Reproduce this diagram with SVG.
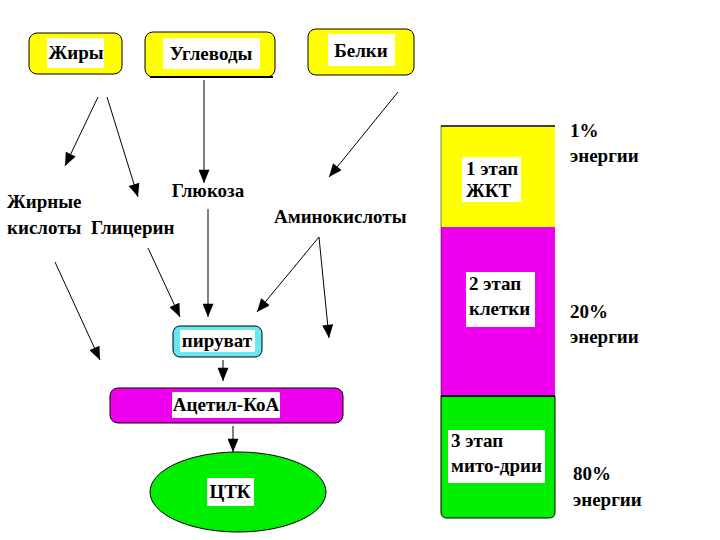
<svg xmlns="http://www.w3.org/2000/svg" width="720" height="540" viewBox="0 0 720 540">
<style>
text{font-family:'Liberation Serif','Times New Roman',serif;font-weight:700;font-size:19px;fill:#000}
.c{text-anchor:middle}
.ln{stroke:#000;stroke-width:1;fill:none}
.bg{fill:#fff}
.ybox{fill:#ffff00;stroke:#000;stroke-width:1}
</style>
<defs>
<marker id="ahb" viewBox="0 0 12 10" refX="12" refY="5" markerWidth="14" markerHeight="11" markerUnits="userSpaceOnUse" orient="auto">
<path d="M0,0 L12,5 L0,10 Z" fill="#000"/>
</marker>
</defs>
<rect width="720" height="540" fill="#fff"/>

<g id="connectors">
<line class="ln" x1="98" y1="97" x2="65" y2="166" marker-end="url(#ahb)"/>
<line class="ln" x1="107" y1="97" x2="138" y2="197" marker-end="url(#ahb)"/>
<line class="ln" x1="204" y1="80" x2="204" y2="183" marker-end="url(#ahb)"/>
<line class="ln" x1="398" y1="92" x2="329" y2="177" marker-end="url(#ahb)"/>
<line class="ln" x1="55" y1="262" x2="100" y2="360" marker-end="url(#ahb)"/>
<line class="ln" x1="148" y1="248" x2="180" y2="317" marker-end="url(#ahb)"/>
<line class="ln" x1="208" y1="209" x2="208" y2="317" marker-end="url(#ahb)"/>
<line class="ln" x1="319" y1="237" x2="257" y2="312" marker-end="url(#ahb)"/>
<line class="ln" x1="319" y1="237" x2="329" y2="338" marker-end="url(#ahb)"/>
<line class="ln" x1="223" y1="360" x2="223" y2="381" marker-end="url(#ahb)"/>
<line class="ln" x1="233" y1="426" x2="233" y2="452" marker-end="url(#ahb)"/>
</g>

<g id="zhiry">
<rect class="ybox" x="29" y="33" width="93" height="41" rx="8"/>
<rect class="bg" x="47" y="38" width="57" height="30"/>
<text class="c" x="76" y="59">Жиры</text>
</g>
<g id="uglevody">
<rect class="ybox" x="145" y="32" width="130" height="45" rx="8" stroke-width="1.5"/>
<line x1="150" y1="77" x2="273" y2="77" stroke="#000" stroke-width="2"/>
<rect class="bg" x="163" y="38" width="97" height="31"/>
<text class="c" x="211" y="60">Углеводы</text>
</g>
<g id="belki">
<rect class="ybox" x="308" y="29" width="106" height="46" rx="8"/>
<rect class="bg" x="328" y="34" width="67" height="32"/>
<text class="c" x="361" y="57">Белки</text>
</g>

<g id="glukoza"><text class="c" x="208" y="197">Глюкоза</text></g>
<g id="zhirnye"><text x="7" y="208">Жирные</text><text x="7" y="234">кислоты</text></g>
<g id="glicerin"><text x="91" y="234">Глицерин</text></g>
<g id="amino"><text x="274" y="223">Аминокислоты</text></g>

<g id="piruvat">
<rect x="173" y="326" width="89" height="31" rx="7" fill="#66e8f0" stroke="#000" stroke-width="1"/>
<rect class="bg" x="180" y="330" width="75" height="22"/>
<text class="c" x="217" y="347">пируват</text>
</g>
<g id="acetil">
<rect x="110" y="388" width="233" height="35" rx="8" fill="#ee00ee" stroke="#000" stroke-width="1"/>
<rect class="bg" x="172" y="392" width="108" height="26"/>
<text class="c" x="226" y="411">Ацетил-КоА</text>
</g>
<g id="ctk">
<ellipse cx="238" cy="492" rx="88" ry="40" fill="#00ee00" stroke="#000" stroke-width="1"/>
<rect class="bg" x="207" y="478" width="47" height="28"/>
<text class="c" x="230" y="498">ЦТК</text>
</g>

<g id="stages">
<rect x="441" y="126" width="114" height="101" fill="#ffff00"/>
<rect x="441" y="227" width="114" height="169" fill="#ee00ee"/>
<path d="M441,396 H555 V512 Q555,518 549,518 H447 Q441,518 441,512 Z" fill="#00ee00" stroke="#000" stroke-width="1"/>
<line x1="441" y1="126" x2="555" y2="126" stroke="#000" stroke-width="1.5"/>
<line x1="441" y1="396" x2="555" y2="396" stroke="#000" stroke-width="1.5"/>
<line x1="441" y1="126" x2="441" y2="396" stroke="#000" stroke-width="0.5"/>
</g>
<g id="stage1">
<rect class="bg" x="462" y="157" width="59" height="45"/>
<text x="466" y="175">1 этап</text>
<text x="466" y="197">ЖКТ</text>
</g>
<g id="stage2">
<rect class="bg" x="466" y="272" width="69" height="55"/>
<text x="469" y="290">2 этап</text>
<text x="469" y="315">клетки</text>
</g>
<g id="stage3">
<rect class="bg" x="448" y="430" width="97" height="53"/>
<text x="451" y="447">3 этап</text>
<text x="451" y="472">мито-дрии</text>
</g>
<g id="energy">
<text x="570" y="137">1%</text>
<text x="570" y="162">энергии</text>
<text x="570" y="318">20%</text>
<text x="570" y="343">энергии</text>
<text x="573" y="480">80%</text>
<text x="573" y="506">энергии</text>
</g>
</svg>
